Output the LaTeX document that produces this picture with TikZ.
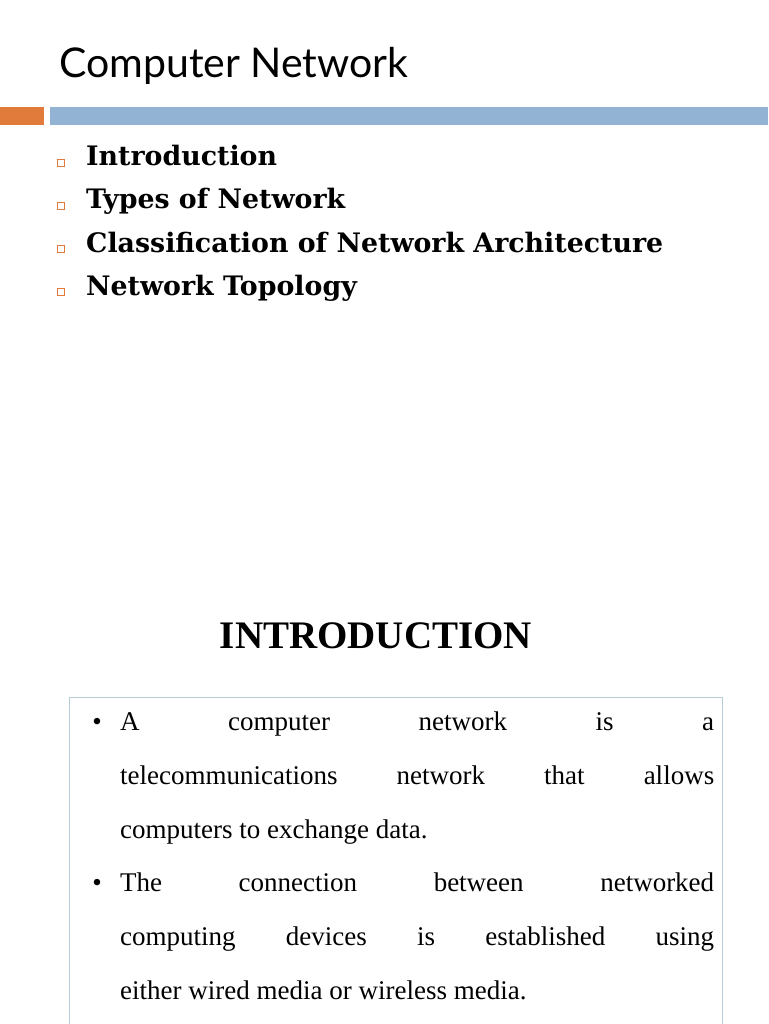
\documentclass[tikz,border=0pt]{standalone}
\usepackage{fontspec}
\setmainfont{Liberation Serif}
\newfontfamily\titlefont{Lato}
\newfontfamily\bodyfont{DejaVu Serif}
\definecolor{orng}{HTML}{E07B3C}
\definecolor{blu}{HTML}{93B3D5}
\definecolor{boxc}{HTML}{B8CCDA}
\begin{document}
\begin{tikzpicture}[x=1pt,y=-1pt,
  item/.style={anchor=base west,font=\bodyfont\fontsize{26.8}{30}\selectfont\bfseries,inner sep=0},
  sq/.style={draw=orng,line width=0.8pt,minimum size=6.5pt,inner sep=0},
  para/.style={anchor=base west,inner sep=0,text width=594pt,align=justify,font=\fontsize{27}{54}\selectfont},
  dot/.style={anchor=base,inner sep=0,font=\fontsize{27}{54}\selectfont}]
\useasboundingbox (0,0) rectangle (768,1024);
\fill[white] (0,0) rectangle (768,1024);
\node[anchor=base west,inner sep=0,font=\titlefont\fontsize{41}{44}\selectfont] (title) at (59,78) {Computer Network};
\fill[orng] (0,107) rectangle (44,125);
\fill[blu] (50,107) rectangle (768,125);
\foreach \t [count=\i] in {Introduction,Types of Network,Classification of Network Architecture,Network Topology}{
  \node[sq] (s\i) at (61,{163+43*(\i-1)}) {};
  \node[item] (i\i) at (86,{166+43*(\i-1)}) {\t};
}
\node[anchor=base,inner sep=0,font=\fontsize{39}{40}\selectfont\bfseries] (head) at (376,648) {INTRODUCTION};
\draw[boxc,line width=0.8pt] (69,1030) -- (69,697) -- (722,697) -- (722,1030);
\node[dot] (b1) at (97,730) {•};
\node[para] (p1) at (120,730) {A computer network is a\linebreak telecommunications network that allows\linebreak computers to exchange data.};
\node[dot] (b2) at (97,891) {•};
\node[para] (p2) at (120,891) {The connection between networked\linebreak computing devices is established using\linebreak either wired media or wireless media.};
\end{tikzpicture}
\end{document}
